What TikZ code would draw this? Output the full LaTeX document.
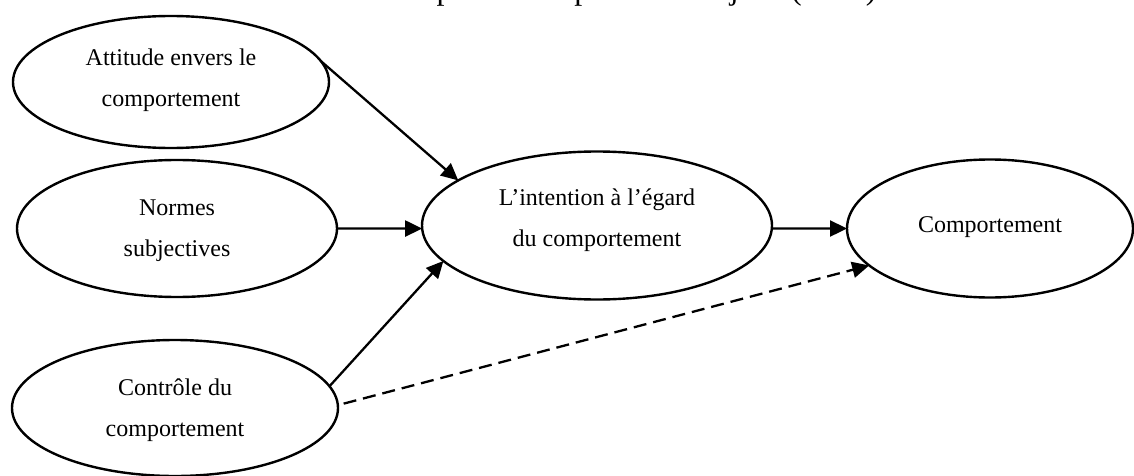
\documentclass[tikz,border=0pt]{standalone}
\usepackage{fontspec}
\setmainfont{Liberation Serif}
\usetikzlibrary{shapes.geometric,arrows.meta}
\begin{document}
\begin{tikzpicture}[x=0.5pt,y=-0.5pt,
  bubble/.style={draw=black, line width=1.2pt, ellipse, inner sep=0pt, outer sep=0pt},
  lbl/.style={align=center, inner sep=0pt, font=\fontsize{12}{20.5}\selectfont},
  link/.style={line width=1.15pt, -{Triangle[length=8.5pt,width=8pt]}},
  weak/.style={link, dash pattern=on 6.5pt off 3.5pt}]
\useasboundingbox (0,0) rectangle (1134,476);
\clip (0,0) rectangle (1134,476);

% heading, running off the top edge
\node[anchor=base west, inner sep=0pt, font=\fontsize{16}{19}\selectfont] (title) at (381,0)
  {comportement planifié d’Ajzen (1991)};

% the five constructs
\node[bubble, minimum width=158pt, minimum height=66pt]   (att)  at (171,82)    {};
\node[bubble, minimum width=160pt, minimum height=68.5pt] (nor)  at (177,228.5) {};
\node[bubble, minimum width=163pt, minimum height=68pt]   (cont) at (175,408)   {};
\node[bubble, minimum width=175pt, minimum height=74pt]   (int)  at (597,225.5) {};
\node[bubble, minimum width=143pt, minimum height=69pt]   (com)  at (990,228.5) {};

\node[lbl] (attT)  at (171,77.3)  {\strut Attitude envers le\\\strut comportement};
\node[lbl] (norT)  at (177,227.3) {\strut Normes\\\strut subjectives};
\node[lbl] (contT) at (175,407.3) {\strut Contrôle du\\\strut comportement};
\node[lbl] (intT)  at (597,217.3) {\strut L’intention à l’égard\\\strut du comportement};
\node[lbl] (comT)  at (990,223.8) {\strut Comportement};

% influences
\draw[link] (att.8)  -- (int.162);
\draw[link] (nor.east) -- (int.181);
\draw[link] (cont.8) -- (int.193);
\draw[link] (int.359) -- (com.west);
\draw[weak, shorten <=3pt] (cont.1) -- (com.197);
\end{tikzpicture}
\end{document}
